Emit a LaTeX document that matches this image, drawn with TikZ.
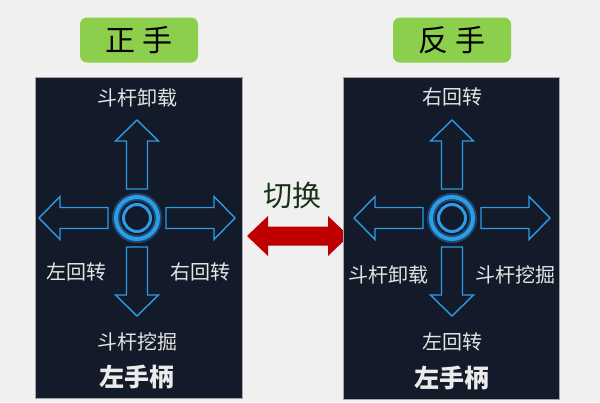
\documentclass[tikz,border=0pt]{standalone}
\usepackage{fontspec}
\setmainfont{Noto Sans CJK SC}
\definecolor{bggray}{HTML}{F0F0F0}
\definecolor{navy}{HTML}{131A29}
\definecolor{skyblue}{HTML}{2D9BE8}
\definecolor{tagreen}{HTML}{8CCF4D}
\definecolor{swred}{HTML}{C00000}
\definecolor{swgreen}{HTML}{173217}

\begin{document}
\begin{tikzpicture}[x=1pt,y=-1pt,
	panel/.style={fill=navy,draw=gray!70,line width=0.6pt},
	tag/.style={fill=tagreen,rounded corners=7pt,minimum width=118pt,minimum height=45pt,
		inner sep=0pt,font=\fontsize{30}{30}\selectfont},
	lbl/.style={text=white!90!black,inner sep=1pt,font=\fontsize{20}{20}\selectfont},
	handle/.style={text=white!92!black,inner sep=1pt,font=\fontsize{25}{25}\selectfont\bfseries},
	dirarrow/.style={draw=skyblue,line width=1.4pt,line join=miter},
	ring/.style={draw=skyblue,line width=#1}]
	\useasboundingbox[fill=bggray] (0,0) rectangle (600,402);
	% titles
	\node[tag] (zheng) at (139,40) {正 手};
	\node[tag] (fan) at (452,40) {反 手};
	% switch arrow
	\fill[swred] (247,236) -- (268,216) -- (268,226.5) -- (328,226.5) -- (328,216)
		-- (349,236) -- (328,256) -- (328,245.5) -- (268,245.5) -- (268,256) -- cycle;
	\node[text=swgreen,font=\fontsize{29}{29}\selectfont] (qiehuan) at (292,195) {切换};
	% panels
	\draw[panel] (35,77) rectangle (242,398);
	\draw[panel] (343,77) rectangle (559,399);
	\foreach \cx in {137,452} {
		\foreach \a in {0,90,180,270}
			\draw[dirarrow,shift={(\cx,218)},rotate=\a] (29,-10.5) -- (77,-10.5) -- (77,-21.5)
				-- (98,0) -- (77,21.5) -- (77,10.5) -- (29,10.5) -- cycle;
		\draw[ring=8pt,skyblue!35!navy] (\cx,218) circle (21pt);
		\draw[ring=4pt] (\cx,218) circle (21pt);
		\draw[ring=3pt] (\cx,218) circle (13.5pt);
	}
	% left handle, forward
	\node[lbl] (lup) at (137,98) {斗杆卸载};
	\node[lbl] (lleft) at (76,272) {左回转};
	\node[lbl] (lright) at (200,272) {右回转};
	\node[lbl] (ldown) at (137,342) {斗杆挖掘};
	\node[handle] (lname) at (137,377) {左手柄};
	% left handle, reversed
	\node[lbl] (rup) at (452,97) {右回转};
	\node[lbl] (rleft) at (388,275) {斗杆卸载};
	\node[lbl] (rright) at (515,275) {斗杆挖掘};
	\node[lbl] (rdown) at (452,342) {左回转};
	\node[handle] (rname) at (452,378) {左手柄};
\end{tikzpicture}
\end{document}
